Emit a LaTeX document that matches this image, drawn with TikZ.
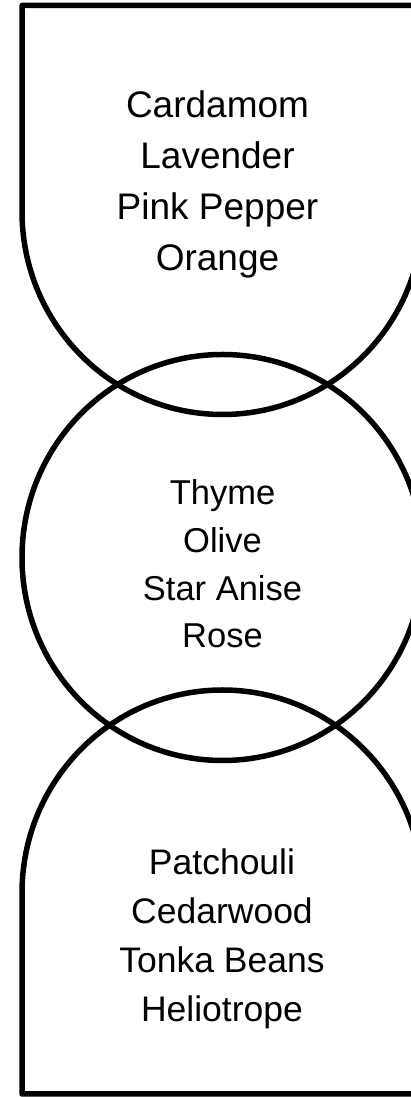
\documentclass[tikz,border=0pt]{standalone}
\usepackage{fontspec}
\setmainfont{Liberation Sans}
\tikzset{
  outline/.style={draw=black, line width=5.5pt, line join=round},
  topfont/.style={anchor=base, inner sep=0pt, font=\fontsize{37}{44}\selectfont},
  midfont/.style={anchor=base, inner sep=0pt, font=\fontsize{34.5}{41}\selectfont},
  botfont/.style={anchor=base, inner sep=0pt, font=\fontsize{35.5}{42}\selectfont},
}
\begin{document}
\begin{tikzpicture}[x=1pt,y=1pt]
\useasboundingbox (0,0) rectangle (411,1097);
\fill[white] (0,0) rectangle (411,1097);
\begin{scope}
\clip (0,0) rectangle (411,1097);
% top shape: rectangle with rounded bottom
\draw[outline] (423,1091.5) -- (22,1091.5) -- (22,885.5)
  arc[start angle=180, end angle=360, x radius=200.5, y radius=203] -- cycle;
% middle circle
\draw[outline] (222.5,539.5) ellipse[x radius=200.5, y radius=203];
% bottom shape: rounded top with rectangle
\draw[outline] (423,3) -- (22,3) -- (22,204)
  arc[start angle=180, end angle=0, x radius=200.5, y radius=203] -- cycle;
\end{scope}
% top texts
\node[topfont] (t1) at (217.5,979.5) {Cardamom};
\node[topfont] (t2) at (217.5,928.5) {Lavender};
\node[topfont] (t3) at (217.5,877.5) {Pink Pepper};
\node[topfont] (t4) at (217.5,826.5) {Orange};
% middle texts
\node[midfont] (m1) at (222.5,592) {Thyme};
\node[midfont] (m2) at (222.5,544.3) {Olive};
\node[midfont] (m3) at (222.5,496.7) {Star Anise};
\node[midfont] (m4) at (222.5,449) {Rose};
% bottom texts
\node[botfont] (b1) at (222,222) {Patchouli};
\node[botfont] (b2) at (222,173) {Cedarwood};
\node[botfont] (b3) at (222,124) {Tonka Beans};
\node[botfont] (b4) at (222,75) {Heliotrope};
\end{tikzpicture}
\end{document}
